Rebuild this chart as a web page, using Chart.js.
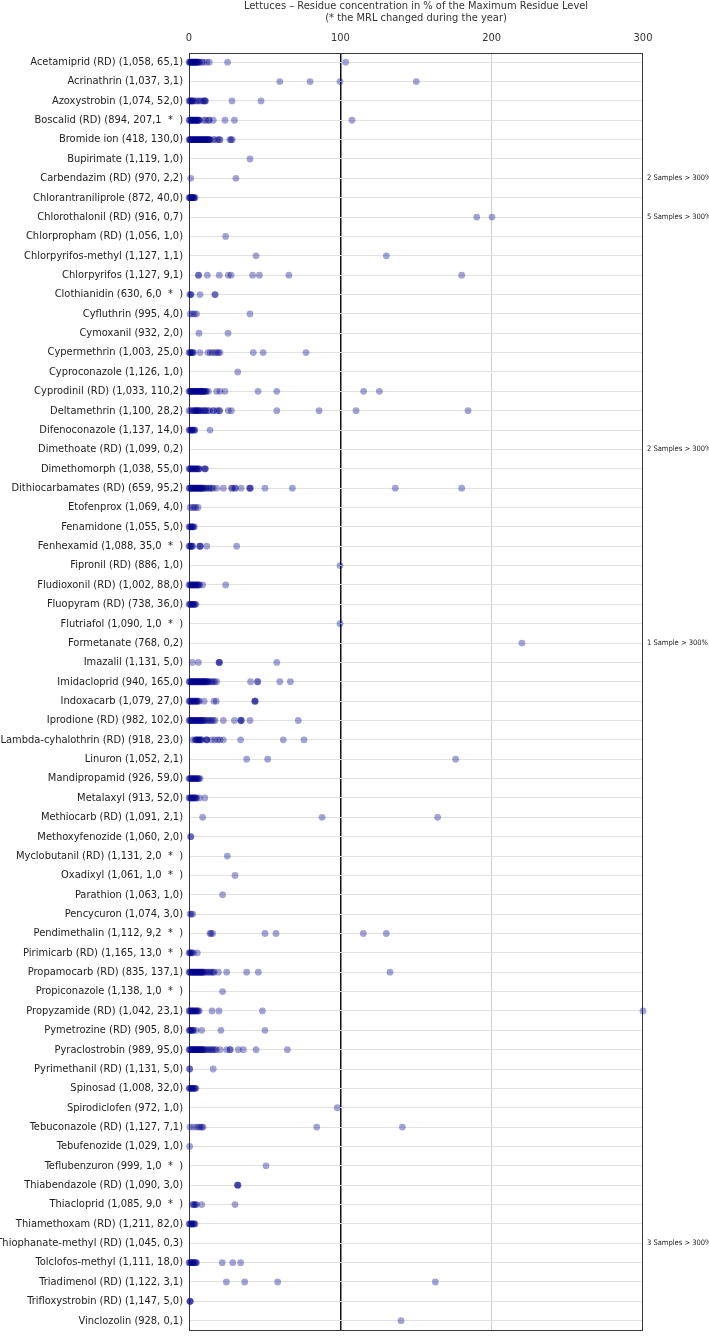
<!DOCTYPE html>
<html><head><meta charset="utf-8">
<script src="https://cdn.jsdelivr.net/npm/chart.js@4.4.0/dist/chart.umd.min.js"></script>
<style>html,body{margin:0;padding:0;background:#fff;}#wrap{width:709px;height:1343px;}</style>
</head><body><div id="wrap"><canvas id="c" width="709" height="1343"></canvas></div>
<script>
const titleLines = ['Lettuces \u2013 Residue concentration in % of the Maximum Residue Level', '(* the MRL changed during the year)'];
const xTicks = [0, 100, 200, 300];
const categories = [
'Acetamiprid (RD) (1,058, 65,1)','Acrinathrin (1,037, 3,1)','Azoxystrobin (1,074, 52,0)','Boscalid (RD) (894, 207,1  *  )','Bromide ion (418, 130,0)',
'Bupirimate (1,119, 1,0)','Carbendazim (RD) (970, 2,2)','Chlorantraniliprole (872, 40,0)','Chlorothalonil (RD) (916, 0,7)','Chlorpropham (RD) (1,056, 1,0)',
'Chlorpyrifos-methyl (1,127, 1,1)','Chlorpyrifos (1,127, 9,1)','Clothianidin (630, 6,0  *  )','Cyfluthrin (995, 4,0)','Cymoxanil (932, 2,0)',
'Cypermethrin (1,003, 25,0)','Cyproconazole (1,126, 1,0)','Cyprodinil (RD) (1,033, 110,2)','Deltamethrin (1,100, 28,2)','Difenoconazole (1,137, 14,0)',
'Dimethoate (RD) (1,099, 0,2)','Dimethomorph (1,038, 55,0)','Dithiocarbamates (RD) (659, 95,2)','Etofenprox (1,069, 4,0)','Fenamidone (1,055, 5,0)',
'Fenhexamid (1,088, 35,0  *  )','Fipronil (RD) (886, 1,0)','Fludioxonil (RD) (1,002, 88,0)','Fluopyram (RD) (738, 36,0)','Flutriafol (1,090, 1,0  *  )',
'Formetanate (768, 0,2)','Imazalil (1,131, 5,0)','Imidacloprid (940, 165,0)','Indoxacarb (1,079, 27,0)','Iprodione (RD) (982, 102,0)',
'Lambda-cyhalothrin (RD) (918, 23,0)','Linuron (1,052, 2,1)','Mandipropamid (926, 59,0)','Metalaxyl (913, 52,0)','Methiocarb (RD) (1,091, 2,1)',
'Methoxyfenozide (1,060, 2,0)','Myclobutanil (RD) (1,131, 2,0  *  )','Oxadixyl (1,061, 1,0  *  )','Parathion (1,063, 1,0)','Pencycuron (1,074, 3,0)',
'Pendimethalin (1,112, 9,2  *  )','Pirimicarb (RD) (1,165, 13,0  *  )','Propamocarb (RD) (835, 137,1)','Propiconazole (1,138, 1,0  *  )','Propyzamide (RD) (1,042, 23,1)',
'Pymetrozine (RD) (905, 8,0)','Pyraclostrobin (989, 95,0)','Pyrimethanil (RD) (1,131, 5,0)','Spinosad (1,008, 32,0)','Spirodiclofen (972, 1,0)',
'Tebuconazole (RD) (1,127, 7,1)','Tebufenozide (1,029, 1,0)','Teflubenzuron (999, 1,0  *  )','Thiabendazole (RD) (1,090, 3,0)','Thiacloprid (1,085, 9,0  *  )',
'Thiamethoxam (RD) (1,211, 82,0)','Thiophanate-methyl (RD) (1,045, 0,3)','Tolclofos-methyl (1,111, 18,0)','Triadimenol (RD) (1,122, 3,1)','Trifloxystrobin (RD) (1,147, 5,0)',
'Vinclozolin (928, 0,1)'
];
// residue concentrations (% of MRL), one list per category, same order
const values = [
[0,0.5,1,1.5,2,2.5,3,3.5,4,4.5,5,5.5,6,6.5,7,1,2,3,4,5,8.5,9.5,11.7,13.4,25.5,103.5],
[60,80,99.8,150.2],
[0,0.5,1,1.5,2,2.5,3,4.5,5.5,7,8,9.5,10.3,10.6,10.9,28.4,47.6],
[0,0.5,1,1.5,2,2.5,3,3.5,4,4.5,5,5.5,6,6.5,7,2,4,6,9.8,11,12.8,13.5,16,23.8,30,107.7],
[0,0.5,1,1.5,2,2.5,3,3.5,4,4.5,5,5.5,6,6.5,7,7.5,8,8.5,9,9.5,10,10.5,11,11.5,12,12.5,13,13.5,14,1,3,5,7,9,11,13,16,17,19,20,20.5,27,27.8,28.5],
[40.3],
[1.1,31],
[0,0.5,1,1.5,2,2.5,3,3.5,4,1,2,3],
[190.1,200.2],
[24.2],
[44.3,130.4],
[6.2,6.4,12.1,20,26,27.8,42,46.5,66,180.2],
[0.5,1,1.5,7.3,17,17.4],
[0.8,2.3,3.5,5,40.3],
[6.6,25.8],
[0,0.5,1,1.5,2,2.5,3,7.3,12.5,14,15.5,17,18.5,19.5,20.5,42.5,49,77.3],
[32.2],
[0,0.5,1,1.5,2,2.5,3,3.5,4,4.5,5,5.5,6,6.5,7,7.5,8,8.5,9,9.5,10,10.5,11,11.5,1,3,5,7,9,12.8,18.3,20.5,23.8,45.6,58,115.4,125.8],
[0,1,2,3,3.5,4,4.5,5,5.5,6,6.5,7,8,9,10,10.5,11,12.5,13.5,16,16.3,18.5,20,20.3,26,28,58,86,110.4,184.4],
[0,0.5,1,1.5,2,2.5,3,3.5,4,13.9],
[],
[0,0.5,1,1.5,2,2.5,3,3.5,4,4.5,5,5.5,6,6.5,7,10.3,10.6,10.9],
[0,0.5,1,1.5,2,2.5,3,3.5,4,4.5,5,5.5,6,6.5,7,7.5,8,8.5,9,9.5,10,11,12,13,14,15,16,2,4,6,8,18.3,22.7,28.2,28.5,30.4,30.7,34.4,40,40.3,40.6,50.2,68.3,136.3,180.2],
[0.7,2.5,3.5,4.5,6],
[0,0.5,1,1.5,2,2.5,3,3.5],
[0,0.5,1,1.5,2,2.4,7,7.3,7.6,11.7,31.5],
[99.8],
[0,0.5,1,1.5,2,2.5,3,3.5,4,4.5,5,5.5,6,6.5,7,9,24.2],
[0,0.5,1,1.5,2,2.5,3,3.5,4,4.6],
[99.8],
[220],
[2.2,6.2,19.8,20,20.2,58],
[0,0.5,1,1.5,2,2.5,3,3.5,4,4.5,5,5.5,6,6.5,7,7.5,8,8.5,9,9.5,10,10.5,11,11.5,12,12.5,13,14,15,16,17,2,4,6,8,10,18.3,40.7,45.2,45.5,60,67],
[0,0.5,1,1.5,2,2.5,3,3.5,4,4.5,5,5.5,6,6.8,10,16.5,18,43.4,43.6,43.8],
[0,0.5,1,1.5,2,2.5,3,3.5,4,4.5,5,5.5,6,6.5,7,7.5,8,8.5,9,9.5,10,11,12,13,14,15,16,17.2,22.7,30,34.2,34.4,34.6,40.3,72.2],
[2.4,4,4.5,5,5.5,6,6.5,7,7.5,8,8.4,11.5,11.7,11.9,15,17,19,20.5,22.7,34.1,62.3,76],
[38.1,52,176.2],
[0,0.5,1,1.5,2,2.5,3,3.5,4,4.5,5,5.5,6,6.5,7.3],
[0,0.5,1,1.5,2,2.5,3,3.5,4,4.5,5,6.8,10.4],
[9,87.9,164.3],
[1.1,1.2],
[25.3],
[30.4],
[22.2],
[0.7,1.5,2.4],
[13.9,14.5,15.6,50.2,57.5,115.2,130.4],
[0,0.5,1,1.5,2,2.9,5.5],
[0,0.5,1,1.5,2,2.5,3,3.5,4,4.5,5,5.5,6,6.5,7,7.5,8,8.5,9,9.5,10,11,12,13,14,15,16,2,4,6,8,16.5,19.4,24.9,38.1,45.8,132.8],
[22.2],
[0,0.5,1,1.5,2,2.5,3,3.5,4,4.5,5,5.5,6,6.8,15.2,19.8,48.5,300],
[0,0.5,1,1.5,2,2.5,3,4.6,8.4,21.1,50.2],
[0,0.5,1,1.5,2,2.5,3,3.5,4,4.5,5,5.5,6,6.5,7,7.5,8,8.5,9,9.5,10,11,12,13,14,15,16,17,18,2,4,6,8,20.5,24.9,27,27.3,32.6,35.9,44.3,65],
[0.4,0.5,16],
[0,0.5,1,1.5,2,2.5,3,3.5,4,4.6],
[98],
[0.7,3,5,6.5,7.5,8.5,9.3,84.4,141],
[0.4],
[50.9],
[32,32.2,32.4],
[2.2,3,3.6,4.2,5,8.4,30.4],
[0,0.5,1,1.5,2,2.5,3,3.5,4],
[],
[0,0.5,1,1.5,2,2.5,3,3.5,4,4.5,5,22,28.9,34.1],
[24.7,36.8,58.6,162.8],
[0.5,0.7,0.9],
[140.1]
];
const overRows = ['Carbendazim (RD) (970, 2,2)','Chlorothalonil (RD) (916, 0,7)','Dimethoate (RD) (1,099, 0,2)','Formetanate (768, 0,2)','Thiophanate-methyl (RD) (1,045, 0,3)'];
const overTexts = ['2 Samples > 300%','5 Samples > 300%','2 Samples > 300%','1 Sample > 300%','3 Samples > 300%'];

const FONT = '"DejaVu Sans Condensed", "DejaVu Sans", sans-serif';
const points = [];
categories.forEach((c, i) => values[i].forEach(v => points.push({x: v, y: c})));

const decor = {
  id: 'decor',
  beforeDatasetsDraw(chart) {
    const {ctx, chartArea: a} = chart;
    ctx.save();
    ctx.strokeStyle = '#3a3a3a';
    ctx.lineWidth = 1;
    ctx.strokeRect(Math.round(a.left) + 0.5, Math.round(a.top) + 0.5, Math.round(a.right - a.left) - 1, Math.round(a.bottom - a.top) - 1);
    ctx.restore();
  },
  afterDraw(chart) {
    const {ctx, chartArea: a, scales} = chart;
    ctx.save();
    ctx.fillStyle = '#333';
    ctx.textAlign = 'center';
    ctx.textBaseline = 'middle';
    ctx.font = '11px ' + FONT;
    const cx = (a.left + a.right) / 2;
    ctx.fillText(titleLines[0], cx, 6);
    ctx.fillText(titleLines[1], cx, 18.5);
    ctx.font = '7.5px ' + FONT;
    ctx.fillStyle = '#222';
    ctx.textAlign = 'left';
    overRows.forEach((r, k) => {
      const y = scales.y.getPixelForValue(categories.indexOf(r));
      ctx.fillText(overTexts[k], a.right + 4, y);
    });
    ctx.restore();
  }
};

new Chart(document.getElementById('c'), {
  type: 'scatter',
  data: { datasets: [{
    data: points,
    backgroundColor: 'rgba(0,0,139,0.36)',
    borderWidth: 0,
    pointRadius: 3.4,
    pointHoverRadius: 3.4,
    clip: false
  }]},
  options: {
    responsive: false,
    devicePixelRatio: 1,
    animation: false,
    events: [],
    layout: { padding: { top: 0, left: 0, right: 66, bottom: 2.5 } },
    plugins: { legend: { display: false }, tooltip: { enabled: false }, title: { display: false } },
    scales: {
      x: {
        type: 'linear', position: 'top', min: 0, max: 300,
        afterBuildTicks: s => { s.ticks = xTicks.map(v => ({value: v})); },
        afterFit: s => { s.height = 52.5; },
        ticks: { font: { family: FONT, size: 11 }, color: '#333', padding: 8 },
        grid: {
          drawTicks: false,
          color: c => c.tick && c.tick.value === 100 ? '#111' : (c.tick && c.tick.value === 200 ? '#cfcfcf' : 'rgba(0,0,0,0)'),
          lineWidth: c => c.tick && c.tick.value === 100 ? 1.5 : 1
        },
        border: { display: false }
      },
      y: {
        type: 'category', labels: categories, offset: true,
        afterFit: s => { s.width = 189; },
        ticks: { font: { family: FONT, size: 11 }, color: '#222', padding: 6, autoSkip: false },
        grid: { offset: false, drawTicks: false, color: '#e2e2e2', lineWidth: 1 },
        border: { display: false }
      }
    }
  },
  plugins: [decor]
});
</script></body></html>
